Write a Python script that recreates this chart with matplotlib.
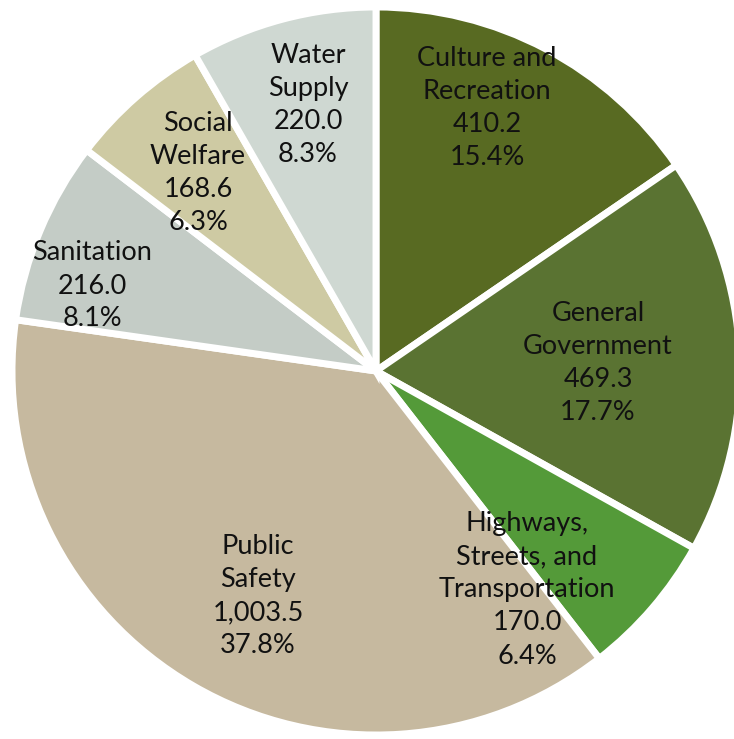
import matplotlib
matplotlib.use("Agg")
import matplotlib.pyplot as plt
import numpy as np

categories = ["Culture and\nRecreation", "General\nGovernment",
              "Highways,\nStreets, and\nTransportation", "Public\nSafety",
              "Sanitation", "Social\nWelfare", "Water\nSupply"]
values = [410.2, 469.3, 170.0, 1003.5, 216.0, 168.6, 220.0]
value_labels = ["410.2", "469.3", "170.0", "1,003.5", "216.0", "168.6", "220.0"]
pct_labels = ["15.4%", "17.7%", "6.4%", "37.8%", "8.1%", "6.3%", "8.3%"]
colors = ["#586a22", "#5a7332", "#549a39", "#c6b99f", "#c4ccc6", "#cecaa3", "#cfd8d2"]

# label offsets in pixels from pie centre (styling)
label_pos = [(111, 263), (222, 8), (151, -219), (-118, -225),
             (-284, 85), (-178, 198), (-68, 266)]

W, H = 734, 739
dpi = 100
cx, cy, R = 376, 371, 364

fig = plt.figure(figsize=(W / dpi, H / dpi), dpi=dpi)
ax = fig.add_axes([0, 0, 1, 1])
ax.pie(values, colors=colors, startangle=90, counterclock=False,
       radius=1.0, wedgeprops=dict(edgecolor="white", linewidth=5))
ax.set_xlim(-cx / R, (W - cx) / R)
ax.set_ylim(-(H - cy) / R, cy / R)
ax.set_aspect("equal")
ax.axis("off")

for cat, v, p, (dx, dy) in zip(categories, value_labels, pct_labels, label_pos):
    ax.text(dx / R, dy / R, f"{cat}\n{v}\n{p}", ha="center", va="center",
            fontsize=19.5, family=["Lato", "DejaVu Sans"], linespacing=1.4,
            color="#111111")

fig.savefig("out.png", dpi=dpi)
